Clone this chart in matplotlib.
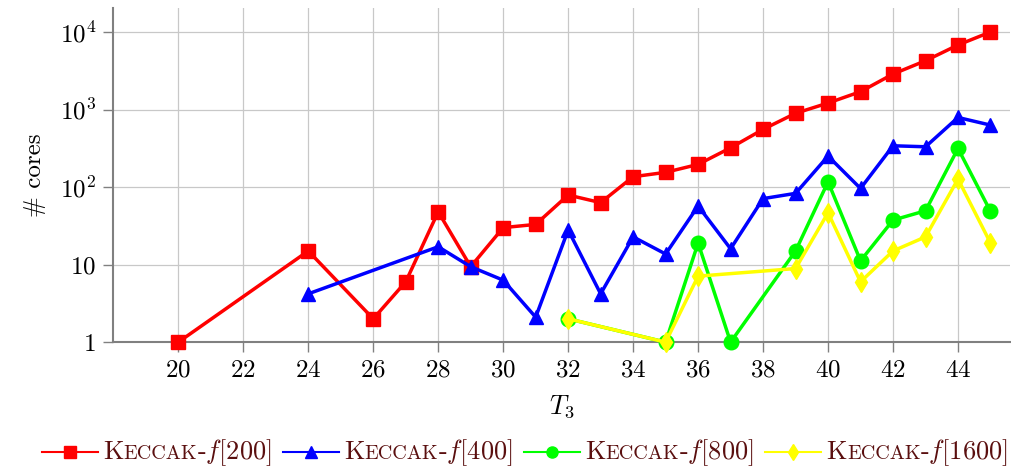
import matplotlib.pyplot as plt
from matplotlib.lines import Line2D
from matplotlib.offsetbox import (AnchoredOffsetbox, DrawingArea, HPacker,
                                  TextArea)

plt.rcParams['mathtext.fontset'] = 'cm'
plt.rcParams['font.family'] = ['cmr10', 'DejaVu Serif']
plt.rcParams['axes.formatter.use_mathtext'] = True

# data
t_200 = [20, 24, 26, 27, 28, 29, 30, 31, 32, 33, 34, 35, 36, 37, 38, 39, 40,
         41, 42, 43, 44, 45]
cores_200 = [1, 15, 2, 6, 48, 9.4, 30, 33, 79, 63, 136, 155, 196, 321, 555,
             895, 1213, 1700, 2870, 4260, 6800, 10000]
t_400 = [24, 28, 29, 30, 31, 32, 33, 34, 35, 36, 37, 38, 39, 40, 41, 42, 43,
         44, 45]
cores_400 = [4.2, 17, 9.4, 6.3, 2.1, 28, 4.2, 22.8, 13.7, 57, 16, 71, 83, 251,
             96, 341, 331, 790, 630]
t_800 = [32, 35, 36, 37, 39, 40, 41, 42, 43, 44, 45]
cores_800 = [2, 1, 19, 1, 15, 117, 11.2, 37.5, 49.5, 315, 48.6]
t_1600 = [32, 35, 36, 39, 40, 41, 42, 43, 44, 45]
cores_1600 = [2, 1, 7.1, 8.9, 46.7, 6, 15, 22.8, 127, 19]
labels = ['200', '400', '800', '1600']

series = [
    (t_200, cores_200, '#ff0000', 's', 10),
    (t_400, cores_400, '#0000ff', '^', 10),
    (t_800, cores_800, '#00ff00', 'o', 10.5),
    (t_1600, cores_1600, '#ffff00', 'd', 10),
]

fig = plt.figure(figsize=(10.12, 4.70), dpi=100)
ax = fig.add_axes([0.112, 0.272, 0.886, 0.711])

for x, y, c, m, ms in series:
    ax.plot(x, y, color=c, marker=m, markersize=ms, linewidth=2.5,
            markeredgecolor=c, zorder=3, clip_on=False)

ax.set_yscale('log')
ax.set_ylim(1, 20400)
ax.set_xlim(18, 45.6)
ax.set_xticks(range(20, 45, 2))
ax.set_yticks([1, 10, 100, 1000, 10000])
ax.set_yticklabels(['$1$', '$10$', '$10^2$', '$10^3$', '$10^4$'])
ax.set_xticklabels(['$%d$' % v for v in range(20, 45, 2)])
ax.minorticks_off()
ax.tick_params(labelsize=18, color='#808080', length=7.5, width=1, pad=5)
ax.grid(True, color='#c8c8c8', linewidth=0.9)
ax.set_axisbelow(True)
for s in ['top', 'right']:
    ax.spines[s].set_visible(False)
for s in ['left', 'bottom']:
    ax.spines[s].set_color('#808080')
    ax.spines[s].set_linewidth(1.5)
ax.set_xlabel('$T_3$', fontsize=19, labelpad=8)
ax.set_ylabel('# cores', fontsize=18, labelpad=10)

# legend with small caps text
txt = '#5a0f0f'
items = []
for (x, y, c, m, ms), lab in zip(series, labels):
    da = DrawingArea(40, 12, 0, 0)
    da.add_artist(Line2D([0, 40], [6, 6], color=c, linewidth=1.5))
    da.add_artist(Line2D([20], [6], color=c, marker=m, markersize=8,
                         markeredgecolor=c))
    parts = [TextArea('K', textprops=dict(size=19, color=txt)),
             TextArea('ECCAK', textprops=dict(size=14.5, color=txt)),
             TextArea('-$f$[' + lab + ']', textprops=dict(size=19, color=txt))]
    word = HPacker(children=parts, align='baseline', pad=0, sep=0)
    items.append(HPacker(children=[da, word], align='center', pad=0, sep=4))
box = HPacker(children=items, align='center', pad=0, sep=8)
anch = AnchoredOffsetbox(loc='center', child=box, frameon=False,
                         bbox_to_anchor=(0.519, 0.038),
                         bbox_transform=fig.transFigure)
fig.add_artist(anch)

fig.savefig('out.png', dpi=100)
